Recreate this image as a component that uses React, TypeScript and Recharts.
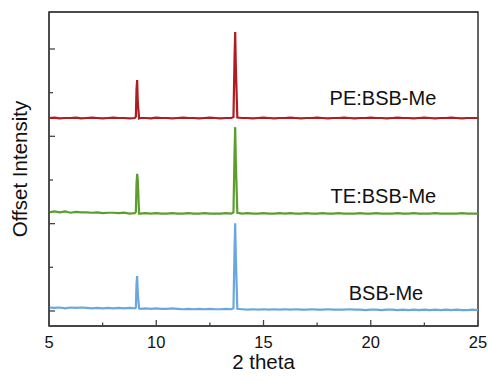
import React from "react";
import { LineChart, Line, XAxis, YAxis, ReferenceArea, ReferenceDot } from "recharts";

// 2 theta positions (deg), denser around the two reflections
const twoTheta = [
  5.0, 5.25, 5.5, 5.75, 6.0, 6.25, 6.5, 6.75, 7.0, 7.25, 7.5, 7.75, 8.0, 8.25, 8.5, 8.75, 9.0,
  9.05, 9.08, 9.11, 9.14, 9.2,
  9.25, 9.5, 9.75, 10.0, 10.25, 10.5, 10.75, 11.0, 11.25, 11.5, 11.75, 12.0, 12.25, 12.5, 12.75, 13.0, 13.25, 13.5,
  13.6, 13.65, 13.68, 13.71, 13.78,
  14.0, 14.25, 14.5, 14.75, 15.0, 15.25, 15.5, 15.75, 16.0, 16.25, 16.5, 16.75, 17.0, 17.25, 17.5,
  17.75, 18.0, 18.25, 18.5, 18.75, 19.0, 19.25, 19.5, 19.75, 20.0, 20.25, 20.5, 20.75, 21.0, 21.25,
  21.5, 21.75, 22.0, 22.25, 22.5, 22.75, 23.0, 23.25, 23.5, 23.75, 24.0, 24.25, 24.5, 24.75, 25.0,
];

// offset intensities (a.u.)
const peBsbMe = [
  4.42, 4.43, 4.41, 4.42, 4.42, 4.43, 4.41, 4.42, 4.43, 4.42, 4.41, 4.42, 4.43, 4.42, 4.42, 4.41, 4.42,
  4.45, 5.07, 5.29, 4.77, 4.41,
  4.42, 4.42, 4.41, 4.43, 4.42, 4.42, 4.41, 4.42, 4.43, 4.42, 4.42, 4.41, 4.42, 4.43, 4.42, 4.41, 4.42, 4.42,
  4.44, 5.8, 6.39, 5.6, 4.43,
  4.42, 4.42, 4.41, 4.42, 4.43, 4.42, 4.41, 4.42, 4.42, 4.43, 4.42, 4.41, 4.42, 4.42, 4.43,
  4.42, 4.41, 4.42, 4.42, 4.43, 4.42, 4.41, 4.42, 4.42, 4.43, 4.42, 4.42, 4.41, 4.42, 4.43,
  4.42, 4.42, 4.41, 4.42, 4.43, 4.42, 4.41, 4.42, 4.42, 4.43, 4.42, 4.41, 4.42, 4.42, 4.42,
];

const teBsbMe = [
  2.26, 2.28, 2.26, 2.28, 2.25, 2.27, 2.26, 2.26, 2.25, 2.26, 2.24, 2.25, 2.25, 2.24, 2.25, 2.23, 2.24,
  2.27, 2.92, 3.14, 2.99, 2.23,
  2.23, 2.24, 2.23, 2.24, 2.23, 2.23, 2.24, 2.23, 2.23, 2.24, 2.23, 2.23, 2.24, 2.23, 2.23, 2.23, 2.24, 2.23,
  2.26, 3.62, 4.21, 3.42, 2.25,
  2.23, 2.24, 2.23, 2.23, 2.24, 2.23, 2.23, 2.24, 2.23, 2.24, 2.23, 2.23, 2.24, 2.23, 2.23,
  2.24, 2.23, 2.23, 2.24, 2.23, 2.23, 2.23, 2.24, 2.23, 2.23, 2.24, 2.23, 2.23, 2.23, 2.24,
  2.23, 2.23, 2.24, 2.23, 2.23, 2.23, 2.24, 2.23, 2.23, 2.23, 2.23, 2.24, 2.23, 2.23, 2.23,
];

const bsbMe = [
  0.08, 0.07, 0.08, 0.06, 0.08, 0.07, 0.08, 0.07, 0.06, 0.07, 0.06, 0.07, 0.06, 0.07, 0.06, 0.07, 0.06,
  0.08, 0.62, 0.8, 0.4, 0.06,
  0.05, 0.06, 0.05, 0.06, 0.05, 0.05, 0.06, 0.05, 0.04, 0.05, 0.04, 0.05, 0.04, 0.05, 0.04, 0.04, 0.05, 0.04,
  0.06, 1.42, 2.01, 1.22, 0.05,
  0.04, 0.03, 0.04, 0.03, 0.04, 0.03, 0.04, 0.03, 0.04, 0.03, 0.04, 0.03, 0.03, 0.04, 0.03,
  0.03, 0.04, 0.03, 0.03, 0.03, 0.04, 0.03, 0.03, 0.02, 0.03, 0.03, 0.02, 0.03, 0.03, 0.02,
  0.03, 0.02, 0.03, 0.02, 0.03, 0.02, 0.03, 0.02, 0.03, 0.02, 0.03, 0.02, 0.02, 0.03, 0.02,
];

const xTicks = [5, 7.5, 10, 12.5, 15, 17.5, 20, 22.5, 25];
const yTicks = [0, 1, 2, 3, 4, 5, 6];

const data = twoTheta.map((t, i) => ({ t, pe: peBsbMe[i], te: teBsbMe[i], bsb: bsbMe[i] }));

const AXIS = "#444";
const TEXT = "#111";

function XTick(props: any) {
  const { x, y, payload } = props;
  const v = payload.value;
  const major = v % 5 === 0;
  return (
    <g>
      <line x1={x} y1={y} x2={x} y2={y - (major ? 6 : 3.5)} stroke={AXIS} strokeWidth={1.3} />
      {major && (
        <text x={x} y={y + 22} textAnchor="middle" fontSize={16.5} fill={TEXT}>
          {v}
        </text>
      )}
    </g>
  );
}

function YTick(props: any) {
  const { x, y, payload } = props;
  const major = payload.value % 2 === 0;
  return <line x1={x} y1={y} x2={x + (major ? 6 : 4)} y2={y} stroke={AXIS} strokeWidth={1.3} />;
}

const labelStyle = { fontSize: 20, fill: TEXT };

export default function App() {
  return (
    <div style={{ position: "absolute", left: 0, top: 0, fontFamily: "'Liberation Sans', Arial, sans-serif" }}>
      <LineChart width={488} height={381} data={data} margin={{ top: 12, right: 10, bottom: 0, left: 0 }}>
        <ReferenceArea x1={5} x2={25} y1={-0.344} y2={6.847} fill="none" stroke="#111" strokeWidth={1.3} />
        <XAxis
          dataKey="t" type="number" domain={[5, 25]} ticks={xTicks} interval={0} height={55}
          tickSize={0} tickMargin={0} tickLine={false} tick={<XTick />}
          axisLine={{ stroke: AXIS, strokeWidth: 1.5 }}
          label={{ value: "2 theta", position: "insideBottom", offset: 12, fontSize: 20.5, fill: TEXT }}
        />
        <YAxis
          type="number" domain={[-0.344, 6.847]} allowDataOverflow ticks={yTicks} interval={0} width={49}
          tickSize={0} tickMargin={0} tickLine={false} tick={<YTick />}
          axisLine={{ stroke: AXIS, strokeWidth: 1.5 }}
          label={{ value: "Offset Intensity", angle: -90, position: "insideLeft", offset: 20, fontSize: 20.5, fill: TEXT, style: { textAnchor: "middle" } }}
        />
        <Line type="linear" dataKey="bsb" stroke="#6aa7e0" strokeWidth={2.2} dot={false} isAnimationActive={false} />
        <Line type="linear" dataKey="te" stroke="#5c9e2e" strokeWidth={2.2} dot={false} isAnimationActive={false} />
        <Line type="linear" dataKey="pe" stroke="#b11c22" strokeWidth={2.2} dot={false} isAnimationActive={false} />
        <ReferenceDot x={20.57} y={4.877} r={0} stroke="none" label={{ value: "PE:BSB-Me", position: "center", ...labelStyle }} />
        <ReferenceDot x={20.59} y={2.633} r={0} stroke="none" label={{ value: "TE:BSB-Me", position: "center", ...labelStyle }} />
        <ReferenceDot x={20.71} y={0.412} r={0} stroke="none" label={{ value: "BSB-Me", position: "center", ...labelStyle }} />
      </LineChart>
    </div>
  );
}
